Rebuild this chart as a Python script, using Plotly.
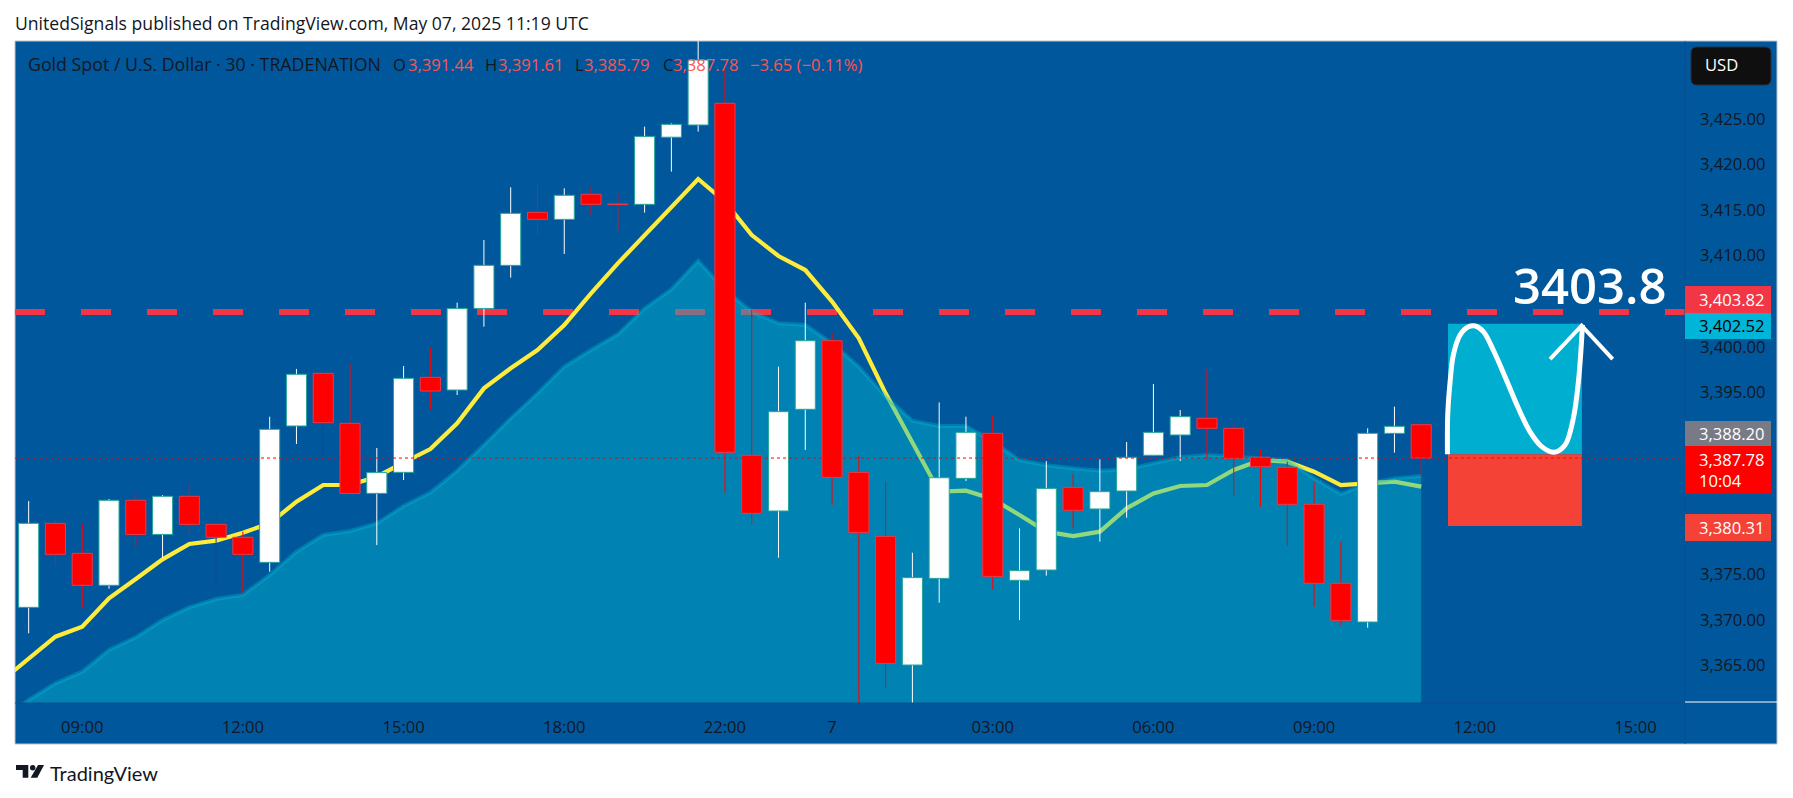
import plotly.graph_objects as go

W, H = 1793, 798

# candle data, 30 min bars (index 0 = 08:00, 52 = 11:00 next day)
opens = [3371.39, 3380.61, 3377.32, 3373.81, 3383.14, 3379.40, 3383.58, 3380.50, 3379.08, 3376.33,
         3391.30, 3397.08, 3391.59, 3383.90, 3386.21, 3396.64, 3395.25, 3404.20, 3408.93, 3414.75,
         3413.98, 3416.73, 3415.67, 3415.63, 3423.00, 3424.34, 3426.72, 3388.08, 3381.97, 3393.13,
         3400.66, 3386.20, 3379.18, 3365.06, 3374.57, 3385.55, 3390.49, 3374.36, 3375.49, 3384.56,
         3382.19, 3384.16, 3388.08, 3390.31, 3392.14, 3391.04, 3387.86, 3386.76, 3382.70, 3374.03,
         3369.78, 3390.49, 3391.44]
highs = [3383.06, 3381.16, 3380.54, 3383.28, 3383.83, 3383.72, 3384.93, 3381.71, 3379.70, 3392.32,
         3397.56, 3397.50, 3398.18, 3388.88, 3397.88, 3399.90, 3404.84, 3411.72, 3417.50, 3418.00,
         3417.39, 3417.57, 3416.84, 3424.16, 3424.52, 3434.50, 3430.50, 3404.03, 3397.81, 3404.84,
         3401.54, 3388.00, 3385.19, 3377.39, 3393.88, 3392.32, 3392.50, 3380.06, 3387.45, 3386.03,
         3387.64, 3389.54, 3395.91, 3393.05, 3397.56, 3391.59, 3388.66, 3387.38, 3385.19, 3378.60,
         3391.04, 3393.42, 3391.61]
lows = [3368.54, 3375.96, 3371.28, 3373.44, 3378.00, 3376.77, 3379.51, 3373.66, 3373.00, 3375.31,
        3389.32, 3387.60, 3383.90, 3378.23, 3385.37, 3393.13, 3394.70, 3402.20, 3407.58, 3412.15,
        3410.18, 3414.46, 3412.63, 3414.72, 3419.22, 3423.61, 3383.98, 3380.61, 3376.84, 3388.66,
        3382.62, 3360.00, 3362.50, 3360.00, 3371.90, 3385.26, 3373.40, 3370.00, 3374.87, 3380.06,
        3378.60, 3381.23, 3388.00, 3387.45, 3387.64, 3383.61, 3382.44, 3378.16, 3371.46, 3369.45,
        3369.16, 3388.37, 3385.79]
closes = [3380.61, 3377.21, 3373.81, 3383.14, 3379.40, 3383.58, 3380.50, 3379.08, 3377.21, 3390.93,
          3396.97, 3391.66, 3383.90, 3386.20, 3396.53, 3395.14, 3404.20, 3408.93, 3414.64, 3413.98,
          3416.62, 3415.63, 3415.60, 3423.09, 3424.41, 3431.47, 3388.41, 3381.71, 3392.87, 3400.66,
          3385.66, 3379.62, 3365.24, 3374.65, 3385.62, 3390.60, 3374.79, 3375.42, 3384.45, 3382.04,
          3384.09, 3387.86, 3390.60, 3392.32, 3391.04, 3387.75, 3386.83, 3382.70, 3374.03, 3369.96,
          3390.49, 3391.26, 3387.78]
# these two have wicks that nearly vanish into the background
faint_wicks = [7, 11]

# yellow ma, starts one bar left of the window
ma_fast = [3363.34, 3365.79, 3368.17, 3369.27, 3372.38, 3374.50, 3376.66, 3378.34, 3378.71, 3379.59,
           3380.61, 3382.99, 3384.82, 3384.82, 3385.73, 3387.27, 3388.77, 3391.59, 3395.43, 3397.63,
           3399.64, 3402.38, 3405.86, 3409.15, 3412.26, 3415.37, 3418.41, 3415.92, 3412.26, 3409.96,
           3408.42, 3404.95, 3400.92, 3394.88, 3389.39, 3384.09, 3384.20, 3383.28, 3381.53, 3379.70,
           3379.22, 3379.70, 3382.26, 3383.90, 3384.71, 3384.82, 3386.47, 3387.56, 3387.38, 3386.28,
           3384.82, 3385.00, 3385.19, 3384.64]
# teal area ma
ma_slow = [3359.00, 3361.22, 3363.05, 3364.33, 3366.71, 3368.10, 3370.00, 3371.39, 3372.31, 3372.75,
           3374.94, 3377.50, 3379.33, 3379.77, 3380.61, 3382.51, 3383.98, 3386.39, 3389.21, 3392.14,
           3394.88, 3397.81, 3399.64, 3401.36, 3404.20, 3406.30, 3409.41, 3406.20, 3403.85, 3402.57,
           3402.38, 3400.37, 3397.81, 3394.52, 3391.88, 3391.30, 3391.30, 3389.58, 3387.56, 3387.00,
           3386.65, 3386.39, 3386.54, 3387.20, 3387.86, 3388.11, 3387.93, 3387.75, 3387.56, 3385.55,
           3383.83, 3385.00, 3385.55, 3385.80]

# hand drawn curve + arrow on the long position
curve_x = [52.98, 52.99, 53.08, 53.2, 53.45, 53.76, 54.01, 54.32, 54.69, 55.13, 55.63, 56.06, 56.5, 56.96,
           57.37, 57.68, 57.87, 57.97, 58.02]
curve_y = [3388.19, 3392.51, 3396.17, 3399.09, 3401.29, 3402.2, 3402.28, 3401.65, 3399.64, 3396.71, 3393.24,
           3390.68, 3389.03, 3388.41, 3389.21, 3392.14, 3396.17, 3399.83, 3402.39]
arrow_x = [56.81, 57.99, 59.15]
arrow_y = [3398.65, 3402.31, 3398.65]

target_price = 3403.82
last_price = 3387.78
entry_price = 3388.20
tp_price = 3402.52
sl_price = 3380.31
pos_start, pos_end = 53, 58

y_ticks = [3365, 3370, 3375, 3395, 3400, 3410, 3415, 3420, 3425]
x_tick_bars = [2, 8, 14, 20, 26, 30, 36, 42, 48, 54, 60]
x_tick_labels = ["09:00", "12:00", "15:00", "18:00", "22:00", "7", "03:00", "06:00", "09:00", "12:00", "15:00"]
x_window = [-0.51, 61.85]

BG = "#01579B"
TXT = "#131722"
FONT = "Open Sans"

n = len(opens)
bars = list(range(n))
is_up = [c >= o for o, c in zip(opens, closes)]


def fx(px):
    return px / W


def fy(px):
    return 1 - px / H


def box(x0, y0, x1, y1, color, line=None, layer="above"):
    return dict(type="rect", xref="paper", yref="paper", x0=fx(x0), x1=fx(x1), y0=fy(y0), y1=fy(y1),
                fillcolor=color, line=dict(color=line or color, width=1 if line else 0), layer=layer)


def rounded(x0, y0, x1, y1, r, color, line=None):
    p = (f"M {fx(x0 + r)} {fy(y0)} L {fx(x1 - r)} {fy(y0)} Q {fx(x1)} {fy(y0)} {fx(x1)} {fy(y0 + r)} "
         f"L {fx(x1)} {fy(y1 - r)} Q {fx(x1)} {fy(y1)} {fx(x1 - r)} {fy(y1)} L {fx(x0 + r)} {fy(y1)} "
         f"Q {fx(x0)} {fy(y1)} {fx(x0)} {fy(y1 - r)} L {fx(x0)} {fy(y0 + r)} Q {fx(x0)} {fy(y0)} {fx(x0 + r)} {fy(y0)} Z")
    return dict(type="path", xref="paper", yref="paper", path=p, fillcolor=color,
                line=dict(color=line or color, width=1 if line else 0))


def poly(points, color):
    p = "M " + " L ".join(f"{fx(x)} {fy(y)}" for x, y in points) + " Z"
    return dict(type="path", xref="paper", yref="paper", path=p, fillcolor=color, line_width=0)


def label(x, y, text, color=TXT, size=16.6, anchor="left", family=FONT, weight=None):
    font = dict(family=family, size=size, color=color)
    if weight:
        font["weight"] = weight
    return dict(xref="paper", yref="paper", x=fx(x), y=fy(y), text=text, showarrow=False, xanchor=anchor,
                yanchor="middle", font=font, borderpad=0, borderwidth=0)


def wick_trace(keep, color):
    xs, ys = [], []
    for i in bars:
        if keep(i):
            xs += [i, i, None]
            ys += [lows[i], highs[i], None]
    return go.Scatter(x=xs, y=ys, mode="lines", line=dict(color=color, width=1), zorder=1, hoverinfo="skip")


fig = go.Figure()
# order matters: ma under the area so it turns green inside it
fig.add_trace(go.Scatter(x=[-1] + bars, y=ma_fast, mode="lines", line=dict(color="#FFEB3B", width=4.2)))
fig.add_trace(go.Scatter(x=[-1] + bars, y=ma_slow, mode="lines", fill="tozeroy",
                         fillcolor="rgba(0,188,212,0.43)", line=dict(color="rgba(0,188,212,0.35)", width=4)))
fig.add_trace(wick_trace(lambda i: is_up[i], "#FFFFFF"))
fig.add_trace(wick_trace(lambda i: not is_up[i] and i not in faint_wicks, "#FF0000"))
fig.add_trace(wick_trace(lambda i: i in faint_wicks, "#0A4F8F"))
fig.add_trace(go.Bar(x=bars, y=[abs(c - o) for o, c in zip(opens, closes)],
                     base=[min(o, c) for o, c in zip(opens, closes)], width=0.75, zorder=2,
                     marker=dict(color=["#FFFFFF" if u else "#FF0000" for u in is_up],
                                 line=dict(color=["#26A69A" if u else "#F23645" for u in is_up], width=1))))
fig.add_trace(go.Scatter(x=curve_x, y=curve_y, mode="lines", line=dict(color="#FFFFFF", width=5, shape="spline"),
                         zorder=3))
fig.add_trace(go.Scatter(x=arrow_x, y=arrow_y, mode="lines", line=dict(color="#FFFFFF", width=4), zorder=3))

shapes = [
    box(15, 41, 1777, 744, BG, line="#B8C4D0", layer="below"),
    dict(type="line", xref="x", yref="y", x0=x_window[0], x1=x_window[1], y0=target_price, y1=target_price,
         layer="below", line=dict(color="#F23645", width=6, dash="30px,36px")),
    dict(type="rect", xref="x", yref="y", x0=pos_start, x1=pos_end, y0=entry_price, y1=tp_price, layer="below",
         fillcolor="#00AECF", line_width=0),
    dict(type="rect", xref="x", yref="y", x0=pos_start, x1=pos_end, y0=sl_price, y1=entry_price, layer="below",
         fillcolor="#F44336", line_width=0),
    dict(type="line", xref="x", yref="y", x0=x_window[0], x1=x_window[1], y0=last_price, y1=last_price,
         layer="above", line=dict(color="#FF0000", width=1, dash="dot")),
    # price scale + time scale separators
    dict(type="line", xref="paper", yref="paper", x0=fx(1685), x1=fx(1685), y0=fy(41), y1=fy(744),
         line=dict(color="#0A4F8F", width=1)),
    dict(type="line", xref="paper", yref="paper", x0=fx(15), x1=fx(1685), y0=fy(703), y1=fy(703),
         line=dict(color="#0A4F8F", width=1)),
    dict(type="line", xref="paper", yref="paper", x0=fx(1685), x1=fx(1777), y0=fy(702), y1=fy(702),
         line=dict(color="#FFFFFF", width=1)),
    # price tags
    rounded(1691, 47, 1771, 85, 6, "#0F0F0F", line="#2A2E39"),
    box(1685, 286, 1771, 313, "#F23645"),
    box(1685, 313, 1771, 339, "#00B5D8"),
    box(1685, 421, 1771, 446, "#787B86"),
    box(1685, 446, 1771, 494, "#FF0000"),
    box(1685, 514, 1771, 541, "#F44336"),
    # logo
    poly([(16, 765), (28.3, 765), (28.3, 777.7), (22.7, 777.7), (22.7, 770), (16, 770)], "#131722"),
    dict(type="circle", xref="paper", yref="paper", x0=fx(30), x1=fx(35.4), y0=fy(765), y1=fy(770.4),
         fillcolor="#131722", line_width=0),
    poly([(38, 765), (44, 765), (37.3, 777.7), (30.7, 777.7)], "#131722"),
]

annotations = [
    label(15, 23, "UnitedSignals published on TradingView.com, May 07, 2025 11:19 UTC", size=17.6),
    label(28, 64, "Gold Spot / U.S. Dollar · 30 · TRADENATION", size=17.8),
    label(393, 64, "O"), label(407.5, 64, "3,391.44", "#FF5252"),
    label(485, 64, "H"), label(498, 64, "3,391.61", "#FF5252"),
    label(575, 64, "L"), label(584, 64, "3,385.79", "#FF5252"),
    label(663, 64, "C"), label(672.5, 64, "3,387.78", "#FF5252"),
    label(750, 64, "−3.65 (−0.11%)", "#FF5252"),
    label(1705, 65, "USD", "#FFFFFF"),
    label(1699, 299, "3,403.82", "#FFFFFF"),
    label(1699, 325, "3,402.52", "#000000"),
    label(1699, 433, "3,388.20", "#FFFFFF"),
    label(1699, 459, "3,387.78", "#FFFFFF"),
    label(1699, 480, "10:04", "#FFFFFF"),
    label(1699, 527, "3,380.31", "#FFFFFF"),
    label(1590, 285, "3403.8", "#FFFFFF", size=49, anchor="center", weight=600),
    label(50, 773, "TradingView", size=20, family="Lato"),
]

fig.update_layout(
    width=W, height=H, margin=dict(l=0, r=0, t=0, b=0), paper_bgcolor="#FFFFFF", plot_bgcolor="rgba(0,0,0,0)",
    showlegend=False, barmode="overlay", shapes=shapes, annotations=annotations,
    xaxis=dict(domain=[fx(15), fx(1685)], range=x_window, tickmode="array", tickvals=x_tick_bars,
               ticktext=x_tick_labels, showgrid=False, zeroline=False, ticks="", ticklabelstandoff=12,
               tickfont=dict(family=FONT, size=16.6, color=TXT)),
    yaxis=dict(domain=[fy(703), fy(41)], range=[3360.89, 3433.56], side="right", tickmode="array", tickvals=y_ticks,
               ticktext=[f"{v:,.2f}" for v in y_ticks], showgrid=False, zeroline=False, ticks="",
               ticklabelstandoff=14, tickfont=dict(family=FONT, size=16.6, color=TXT)),
)

fig.write_html("out.html", config=dict(displayModeBar=False), post_script="document.body.style.margin='0';")
